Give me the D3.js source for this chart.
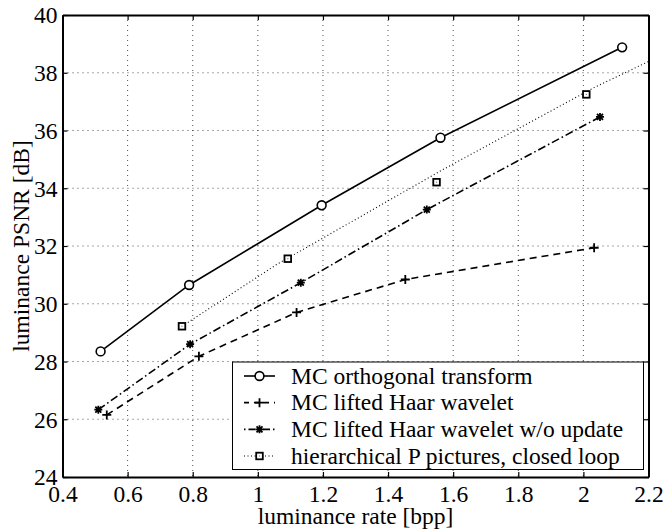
<!DOCTYPE html>
<html>
<head>
<meta charset="utf-8">
<script src="https://cdn.jsdelivr.net/npm/d3@7"></script>
<style>
  body { margin: 0; background: #fff; }
  svg text { font-family: "Liberation Serif", "Times New Roman", serif !important; fill: #000; }
</style>
</head>
<body>
<div id="chart"></div>
<script>
// data
const xTicks = [0.4, 0.6, 0.8, 1, 1.2, 1.4, 1.6, 1.8, 2, 2.2];
const yTicks = [24, 26, 28, 30, 32, 34, 36, 38, 40];

const orthoRate = [0.517, 0.789, 1.196, 1.561, 2.119];
const orthoPsnr = [28.35, 30.65, 33.41, 35.75, 38.88];

const haarRate = [0.536, 0.819, 1.119, 1.453, 2.033];
const haarPsnr = [26.15, 28.18, 29.70, 30.84, 31.94];

const noUpdRate = [0.51, 0.792, 1.132, 1.519, 2.051];
const noUpdPsnr = [26.33, 28.6, 30.73, 33.26, 36.47];

const hierRate = [0.767, 1.092, 1.549, 2.009];
const hierPsnr = [29.22, 31.56, 34.21, 37.25];

// dotted curve drawn with the hierarchical markers
const hierLineRate = [0.767, 1.058, 1.569, 2.03, 2.2];
const hierLinePsnr = [29.22, 31.36, 34.65, 37.47, 38.39];

const legendLabels = [
  "MC orthogonal transform",
  "MC lifted Haar wavelet",
  "MC lifted Haar wavelet w/o update",
  "hierarchical P pictures, closed loop"
];

const FONT = "Liberation Serif";
const FS = 23.5;

const W = 665, H = 531;
const margin = { left: 62.5, right: 16.5, top: 15, bottom: 54 };
const iw = W - margin.left - margin.right;
const ih = H - margin.top - margin.bottom;

const svg = d3.select("#chart").append("svg")
  .attr("width", W).attr("height", H);

const g = svg.append("g")
  .attr("transform", `translate(${margin.left},${margin.top})`);

const x = d3.scaleLinear().domain([0.4, 2.2]).range([0, iw]);
const y = d3.scaleLinear().domain([24, 40]).range([ih, 0]);

// grid
g.append("g")
  .selectAll("line")
  .data(xTicks.slice(1, -1))
  .join("line")
  .attr("x1", d => x(d)).attr("x2", d => x(d))
  .attr("y1", 0).attr("y2", ih)
  .attr("stroke", "#222").attr("stroke-width", 0.8)
  .attr("stroke-dasharray", "1,4");

g.append("g")
  .selectAll("line")
  .data(yTicks.slice(1, -1))
  .join("line")
  .attr("x1", 0).attr("x2", iw)
  .attr("y1", d => y(d)).attr("y2", d => y(d))
  .attr("stroke", "#222").attr("stroke-width", 0.8)
  .attr("stroke-dasharray", "1,4");

// axes, ticks pointing inward on all sides
const fmt = d => String(d);
const xAxis = g.append("g").attr("transform", `translate(0,${ih})`)
  .call(d3.axisBottom(x).tickValues(xTicks).tickFormat(fmt).tickSizeInner(-5).tickSizeOuter(0).tickPadding(11));
const yAxis = g.append("g")
  .call(d3.axisLeft(y).tickValues(yTicks).tickFormat(fmt).tickSizeInner(-5).tickSizeOuter(0).tickPadding(5));
g.append("g")
  .call(d3.axisTop(x).tickValues(xTicks).tickFormat("").tickSizeInner(-5).tickSizeOuter(0));
g.append("g").attr("transform", `translate(${iw},0)`)
  .call(d3.axisRight(y).tickValues(yTicks).tickFormat("").tickSizeInner(-5).tickSizeOuter(0));

g.selectAll("g").attr("font-family", FONT);
g.selectAll(".domain").attr("stroke", "#000").attr("stroke-width", 2);
g.selectAll(".tick line").attr("stroke", "#000").attr("stroke-width", 1.2);
xAxis.selectAll("text").attr("font-size", FS).attr("dy", "0.6em");
yAxis.selectAll("text").attr("font-size", FS).attr("dy", "0.33em");

// axis titles
svg.append("text")
  .attr("x", margin.left + iw / 2).attr("y", 524)
  .attr("text-anchor", "middle").attr("font-size", FS).attr("font-family", FONT)
  .text("luminance rate [bpp]");
svg.append("text")
  .attr("transform", `translate(29,${margin.top + ih / 2}) rotate(-90)`)
  .attr("text-anchor", "middle").attr("font-size", FS).attr("font-family", FONT)
  .text("luminance PSNR [dB]");

// series
const line = d3.line().x(d => x(d[0])).y(d => y(d[1]));
const zip = (a, b) => a.map((v, i) => [v, b[i]]);

const series = [
  { pts: zip(orthoRate, orthoPsnr), dash: null, w: 1.6, marker: "circle" },
  { pts: zip(haarRate, haarPsnr), dash: "7,5", w: 1.6, marker: "plus" },
  { pts: zip(noUpdRate, noUpdPsnr), dash: "8,3,1.5,3", w: 1.6, marker: "star" },
  { pts: zip(hierLineRate, hierLinePsnr), dash: "1,2.5", w: 1.1, marker: null },
  { pts: zip(hierRate, hierPsnr), dash: null, w: 0, marker: "square" }
];

function drawMarker(sel, type) {
  if (type === "circle") {
    sel.append("circle").attr("r", 4.4)
      .attr("fill", "#fff").attr("stroke", "#000").attr("stroke-width", 1.6);
  } else if (type === "plus") {
    sel.append("path").attr("d", "M-4.5,0H4.5M0,-4.5V4.5")
      .attr("stroke", "#000").attr("stroke-width", 1.8);
  } else if (type === "star") {
    sel.append("path")
      .attr("d", "M-4,0H4M0,-4V4M-3,-3L3,3M-3,3L3,-3")
      .attr("stroke", "#000").attr("stroke-width", 1.8);
  } else if (type === "square") {
    sel.append("rect").attr("x", -3.3).attr("y", -3.3)
      .attr("width", 6.6).attr("height", 6.6)
      .attr("fill", "#fff").attr("stroke", "#000").attr("stroke-width", 1.8);
    sel.append("rect").attr("x", -0.6).attr("y", -0.6)
      .attr("width", 1.2).attr("height", 1.2).attr("fill", "#888");
  }
}

const plot = g.append("g");
series.forEach(s => {
  if (s.w > 0) {
    plot.append("path").datum(s.pts)
      .attr("d", line)
      .attr("fill", "none").attr("stroke", "#000")
      .attr("stroke-width", s.w)
      .attr("stroke-dasharray", s.dash);
  }
});
series.forEach(s => {
  if (!s.marker) return;
  plot.selectAll(null).data(s.pts).join("g")
    .attr("transform", d => `translate(${x(d[0])},${y(d[1])})`)
    .each(function () { drawMarker(d3.select(this), s.marker); });
});

// legend
const legend = svg.append("g");
const lgX = 232.5, lgY = 362, lgW = 411, lgH = 107.5;
legend.append("rect")
  .attr("x", lgX).attr("y", lgY).attr("width", lgW).attr("height", lgH)
  .attr("fill", "#fff").attr("stroke", "#000").attr("stroke-width", 1);

const legendStyle = [
  { dash: null, w: 1.6, marker: "circle" },
  { dash: "5,5", w: 1.6, marker: "plus" },
  { dash: "1.5,3,7,3", w: 1.6, marker: "star" },
  { dash: "1,2.5", w: 1.1, marker: "square" }
];
const rowY = d3.scaleLinear().domain([0, 3]).range([376, 456]);

legendLabels.forEach((lab, i) => {
  const st = legendStyle[i];
  const row = legend.append("g").attr("transform", `translate(0,${rowY(i)})`);
  row.append("line").attr("x1", 244).attr("x2", 275)
    .attr("stroke", "#000").attr("stroke-width", st.w)
    .attr("stroke-dasharray", st.dash);
  const m = row.append("g").attr("transform", "translate(259.5,0)");
  drawMarker(m, st.marker);
  row.append("text").attr("x", 291).attr("y", 0).attr("dy", "0.33em")
    .attr("font-size", FS).attr("font-family", FONT).text(lab);
});
</script>
</body>
</html>
